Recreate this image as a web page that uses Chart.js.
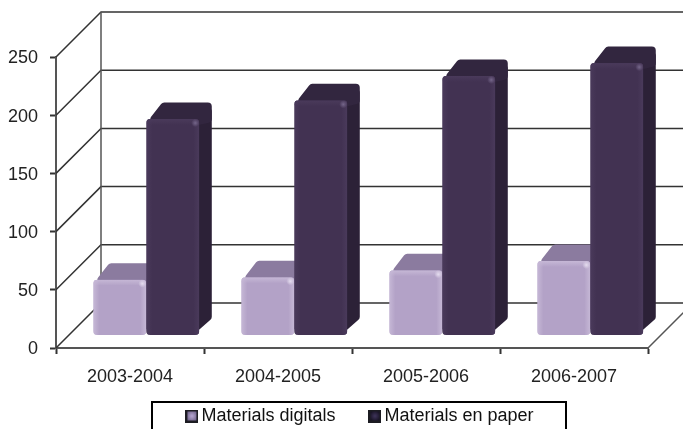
<!DOCTYPE html>
<html>
<head>
<meta charset="utf-8">
<script src="https://cdn.jsdelivr.net/npm/chart.js@4"></script>
<style>
html, body { margin: 0; padding: 0; background: #fff; overflow: hidden; }
#wrap { width: 683px; height: 429px; }
</style>
</head>
<body>
<div id="wrap"><canvas id="myChart" width="683" height="429"></canvas></div>
<script>
// dades
const cursos = ['2003-2004', '2004-2005', '2005-2006', '2006-2007'];
const digitals = [48, 50, 56, 64];
const paper = [186, 202, 223, 234];
const yMax = 250;
const yStep = 50;

// estils
const fontText = { family: '"Liberation Sans", Arial, sans-serif', size: 18 };
const lilaCares = { front: '#b3a2c7', top: '#8b7b9f', side: '#8f80a3', edge: '#c6b8d6', spot: '#e4dcee' };
const foscCares = { front: '#423252', top: '#32263f', side: '#2c2137', edge: '#4a3a5b', spot: '#75668a' };

// fondaria de la caixa i de les barres
const wallDx = 45, wallDy = -45;
const barShiftX = 16.3, barShiftY = -12.5;
const barDx = 12.5, barDy = -16.5;

function legendMarker(inner, outer) {
    const c = document.createElement('canvas');
    c.width = 13; c.height = 13;
    const g = c.getContext('2d');
    g.fillStyle = '#1c1c22';
    g.fillRect(0, 0, 13, 13);
    const grad = g.createRadialGradient(6.5, 6.5, 0.5, 6.5, 6.5, 6);
    grad.addColorStop(0, inner);
    grad.addColorStop(1, outer);
    g.fillStyle = grad;
    g.fillRect(2, 2, 9, 9);
    return c;
}
const markers = [legendMarker('#b5a5d0', '#6c5f86'), legendMarker('#3d3358', '#14101f')];

function roundedPoly(ctx, pts, r) {
    ctx.beginPath();
    const n = pts.length;
    ctx.moveTo((pts[n - 1][0] + pts[0][0]) / 2, (pts[n - 1][1] + pts[0][1]) / 2);
    for (let i = 0; i < n; i++) {
        const a = pts[i], b = pts[(i + 1) % n];
        ctx.arcTo(a[0], a[1], (a[0] + b[0]) / 2, (a[1] + b[1]) / 2, r);
    }
    ctx.closePath();
}

function drawBar(ctx, bar, cols) {
    const x0 = bar.x - bar.width / 2 + barShiftX;
    const x1 = bar.x + bar.width / 2 + barShiftX;
    const yt = bar.y + barShiftY;
    const yb = bar.base + barShiftY;

    // costat
    ctx.fillStyle = cols.side;
    roundedPoly(ctx, [[x1 - 6, yt], [x1 + barDx, yt + barDy], [x1 + barDx, yb + barDy], [x1 - 6, yb]], 4);
    ctx.fill();
    // tapa
    ctx.fillStyle = cols.top;
    roundedPoly(ctx, [[x0, yt + 4], [x0 + 16, yt + barDy], [x1 + barDx, yt + barDy], [x1 + barDx, yt + 3], [x1, yt + 6]], 4);
    ctx.fill();
    // cara davantera
    ctx.save();
    roundedPoly(ctx, [[x0, yt], [x1, yt], [x1, yb], [x0, yb]], 4);
    ctx.clip();
    ctx.fillStyle = cols.front;
    ctx.fillRect(x0, yt, x1 - x0, yb - yt);
    const left = ctx.createLinearGradient(x0, 0, x0 + 6, 0);
    left.addColorStop(0, cols.edge);
    left.addColorStop(1, cols.edge + '00');
    ctx.fillStyle = left;
    ctx.fillRect(x0, yt, 6, yb - yt);
    const right = ctx.createLinearGradient(x1 - 6, 0, x1, 0);
    right.addColorStop(0, cols.edge + '00');
    right.addColorStop(1, cols.edge);
    ctx.fillStyle = right;
    ctx.fillRect(x1 - 6, yt, 6, yb - yt);
    const up = ctx.createLinearGradient(0, yt, 0, yt + 6);
    up.addColorStop(0, cols.edge);
    up.addColorStop(1, cols.edge + '00');
    ctx.fillStyle = up;
    ctx.fillRect(x0, yt, x1 - x0, 6);
    const spot = ctx.createRadialGradient(x1 - 4, yt + 4, 0, x1 - 4, yt + 4, 4);
    spot.addColorStop(0, cols.spot);
    spot.addColorStop(1, cols.spot + '00');
    ctx.fillStyle = spot;
    ctx.fillRect(x1 - 10, yt, 10, 10);
    ctx.restore();
}

const box3d = {
    id: 'box3d',
    afterLayout(chart) {
        const lg = chart.legend;
        lg.left += 38.5;
        lg.right += 38.5;
        lg.bottom += 368 - lg.top;
        lg.top = 368;
    },
    beforeDatasetsDraw(chart) {
        const { ctx, scales: { x, y } } = chart;
        const left = x.left, right = x.right;
        ctx.save();
        ctx.lineCap = 'butt';
        // parets
        for (let v = 0; v <= yMax; v += yStep) {
            const py = y.getPixelForValue(v);
            ctx.strokeStyle = '#333';
            ctx.lineWidth = 1.5;
            ctx.beginPath();
            ctx.moveTo(left, py);
            ctx.lineTo(left + wallDx, py + wallDy);
            ctx.lineTo(right + wallDx, py + wallDy);
            ctx.stroke();
        }
        ctx.strokeStyle = '#555';
        ctx.beginPath();
        ctx.moveTo(left + wallDx, y.getPixelForValue(yMax) + wallDy);
        ctx.lineTo(left + wallDx, y.getPixelForValue(0) + wallDy);
        ctx.moveTo(right, y.getPixelForValue(0));
        ctx.lineTo(right + wallDx, y.getPixelForValue(0) + wallDy);
        ctx.stroke();

        // barres
        const m0 = chart.getDatasetMeta(0), m1 = chart.getDatasetMeta(1);
        cursos.forEach((c, i) => {
            drawBar(ctx, m0.data[i], lilaCares);
            drawBar(ctx, m1.data[i], foscCares);
        });
        ctx.restore();
        return false;
    },
    afterDraw(chart) {
        // marc de la llegenda
        const ctx = chart.ctx;
        ctx.save();
        ctx.strokeStyle = '#000';
        ctx.lineWidth = 2;
        ctx.beginPath();
        ctx.moveTo(152, 440);
        ctx.lineTo(152, 402);
        ctx.lineTo(566, 402);
        ctx.lineTo(566, 440);
        ctx.stroke();
        ctx.restore();
    }
};

const ctx = document.getElementById('myChart');
const myChart = new Chart(ctx, {
    type: 'bar',
    data: {
        labels: cursos,
        datasets: [
            { label: 'Materials digitals', data: digitals, backgroundColor: lilaCares.front },
            { label: 'Materials en paper', data: paper, backgroundColor: foscCares.front }
        ]
    },
    options: {
        responsive: false,
        animation: false,
        categoryPercentage: 0.716,
        barPercentage: 1,
        layout: { padding: { left: 0, right: 35, top: 57, bottom: -26 } },
        scales: {
            x: {
                afterFit(s) { s.height = 40; },
                grid: { drawOnChartArea: false, tickLength: 6, tickColor: '#333', tickWidth: 2 },
                border: { color: '#555', width: 2 },
                ticks: { color: '#222', font: fontText, padding: 12, maxRotation: 0 }
            },
            y: {
                min: 0,
                max: yMax,
                afterFit(s) { s.width = 56; },
                grid: { drawOnChartArea: false, tickLength: 6, tickColor: '#333', tickWidth: 2 },
                border: { color: '#555', width: 2 },
                ticks: { color: '#222', font: fontText, stepSize: yStep, padding: 12, labelOffset: 1.5 }
            }
        },
        plugins: {
            tooltip: { enabled: false },
            legend: {
                position: 'bottom',
                labels: {
                    font: fontText,
                    color: '#111',
                    usePointStyle: true,
                    pointStyleWidth: 1,
                    padding: 39,
                    generateLabels(chart) {
                        return chart.data.datasets.map((d, i) => ({
                            text: d.label,
                            datasetIndex: i,
                            pointStyle: markers[i],
                            fontColor: '#111',
                            lineWidth: 0
                        }));
                    }
                }
            }
        }
    },
    plugins: [box3d]
});
</script>
</body>
</html>
